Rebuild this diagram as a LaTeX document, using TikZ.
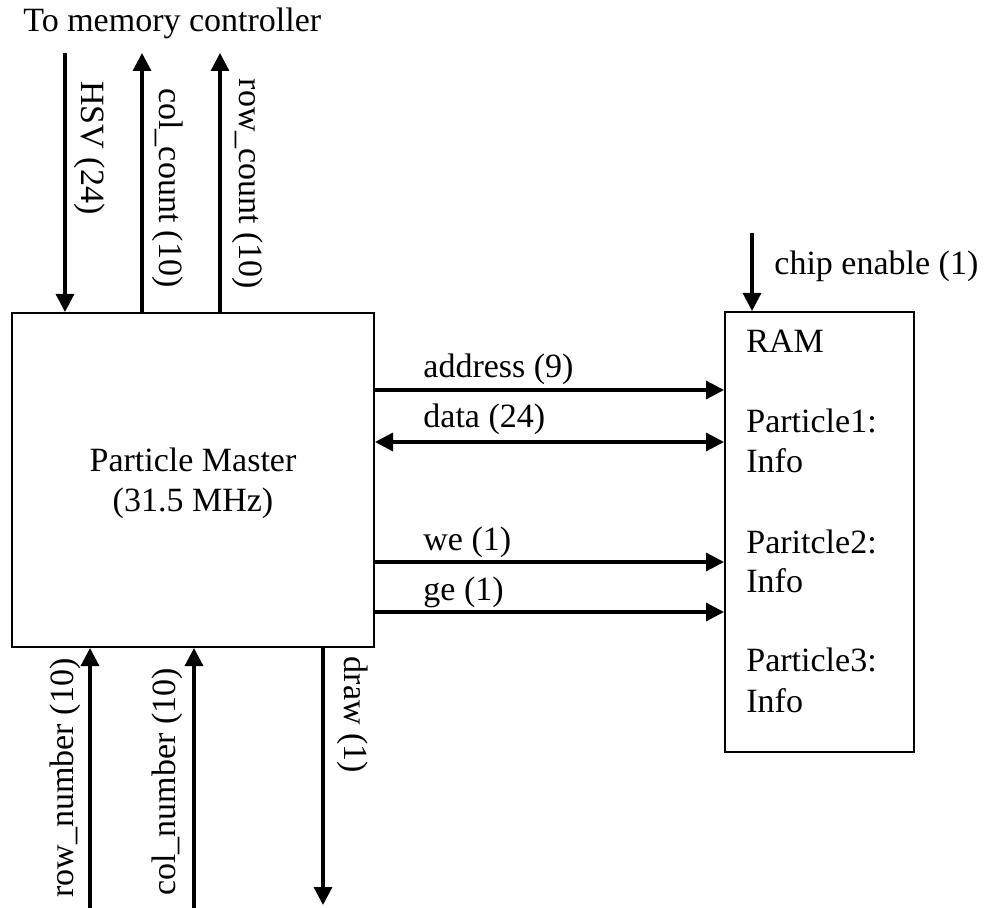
\documentclass[tikz,border=0pt]{standalone}
\usepackage{fontspec}
\setmainfont{Liberation Serif}
\usetikzlibrary{arrows.meta}

\begin{document}
\begin{tikzpicture}[x=0.5pt, y=-0.5pt, >={Triangle[length=9pt,width=9pt]},
  txt/.style={inner sep=0pt, font=\fontsize{17}{20}\selectfont},
  box/.style={draw, line width=1pt, txt, align=center},
  sig/.style={line width=1.6pt}]
\useasboundingbox (0,0) rectangle (984,908);
\node[txt, anchor=base west] (ttl) at (23,32) {To memory controller};
\node[box, minimum width=181pt, minimum height=167pt] (master) at (193,480) {\rule{0pt}{15pt}Particle Master\\(31.5 MHz)};
\node[box, minimum width=94.5pt, minimum height=220pt] (ram) at (819.5,532) {};
\node[txt, anchor=base west] (ramttl) at (746,353) {RAM};
\node[txt, anchor=base west] (p1) at (746,433) {Particle1:};
\node[txt, anchor=base west] (p1i) at (746,473) {Info};
\node[txt, anchor=base west] (p2) at (746,553) {Paritcle2:};
\node[txt, anchor=base west] (p2i) at (746,592) {Info};
\node[txt, anchor=base west] (p3) at (746,671) {Particle3:};
\node[txt, anchor=base west] (p3i) at (746,712) {Info};
% to memory controller
\coordinate (hsvsrc) at (65,53);
\draw[sig, ->] (hsvsrc) -- (hsvsrc |- master.north);
\node[txt, rotate=-90] (hsv) at (90,148) {HSV (24)};
\coordinate (ccdst) at (142,53);
\draw[sig, ->] (ccdst |- master.north) -- (ccdst);
\node[txt, rotate=-90] (cc) at (168,188) {col\_count (10)};
\coordinate (rcdst) at (220,53);
\draw[sig, ->] (rcdst |- master.north) -- (rcdst);
\node[txt, rotate=-90] (rc) at (248,184) {row\_count (10)};
% bottom side
\coordinate (rnsrc) at (90,908);
\draw[sig, ->] (rnsrc) -- (rnsrc |- master.south);
\node[txt, rotate=90] (rn) at (65,778) {row\_number (10)};
\coordinate (cnsrc) at (194,908);
\draw[sig, ->] (cnsrc) -- (cnsrc |- master.south);
\node[txt, rotate=90] (cn) at (167,782) {col\_number (10)};
\coordinate (drdst) at (323,905);
\draw[sig, ->] (drdst |- master.south) -- (drdst);
\node[txt, rotate=-90] (dr) at (353,715) {draw (1)};
% master to ram
\draw[sig, ->] (master.east |- 0,390) -- (ram.west |- 0,390);
\node[txt, anchor=base west] (addr) at (423,378) {address (9)};
\draw[sig, <->] (master.east |- 0,442) -- (ram.west |- 0,442);
\node[txt, anchor=base west] (data) at (423,428) {data (24)};
\draw[sig, ->] (master.east |- 0,562) -- (ram.west |- 0,562);
\node[txt, anchor=base west] (we) at (423,550) {we (1)};
\draw[sig, ->] (master.east |- 0,612) -- (ram.west |- 0,612);
\node[txt, anchor=base west] (ge) at (423,600) {ge (1)};
\coordinate (cesrc) at (752,233);
\draw[sig, ->] (cesrc) -- (cesrc |- ram.north);
\node[txt, anchor=base west] (ce) at (774,275) {chip enable (1)};
\end{tikzpicture}
\end{document}
